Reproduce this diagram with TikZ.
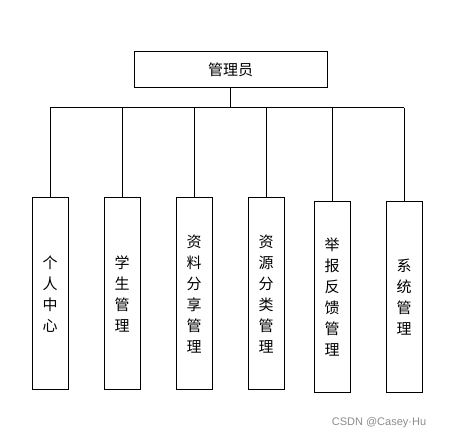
\documentclass[tikz,border=0pt]{standalone}
\usepackage{fontspec}
\newfontfamily\cjk{Noto Sans CJK SC}
\newfontfamily\wmark{Liberation Sans}
\usetikzlibrary{positioning}
\tikzset{box/.style = {draw, line width = 1pt, inner sep = 0, align = center,
                       font = \cjk\fontsize{15}{21}\selectfont}}
\tikzset{modbox/.style = {box, minimum width = 36, minimum height = 192}}
\tikzset{link/.style = {line width = 1pt}}

\begin{document}
\begin{tikzpicture}[x=1pt, y=-1pt]
        \useasboundingbox (0, 0) rectangle (453, 438);

        \node [box, minimum width = 193, minimum height = 36] (admin) at (230.5, 70) {管理员};

        \node [modbox] (c1) at (50, 294) {个\\人\\中\\心};
        \node [modbox] (c2) at (122, 294) {学\\生\\管\\理};
        \node [modbox] (c3) at (194, 294) {资\\料\\分\\享\\管\\理};
        \node [modbox] (c4) at (266, 294) {资\\源\\分\\类\\管\\理};
        \node [modbox, minimum height = 191] (c5) at (332, 297.5) {举\\报\\反\\馈\\管\\理};
        \node [modbox, minimum height = 191] (c6) at (404, 297.5) {系\\统\\管\\理};

        \coordinate (bus) at (230.5, 108);
        \draw [link] (admin.south) -- (bus);
        \draw [link] (bus -| c1) -- (bus -| c6);
        \foreach \i in {1,...,6}
          \draw [link] (bus -| c\i.north) -- (c\i.north);

        \node [text = black!45, font = \wmark\fontsize{11}{13}\selectfont] (mark) at (379, 423) {CSDN @Casey·Hu};
      \end{tikzpicture}
\end{document}
